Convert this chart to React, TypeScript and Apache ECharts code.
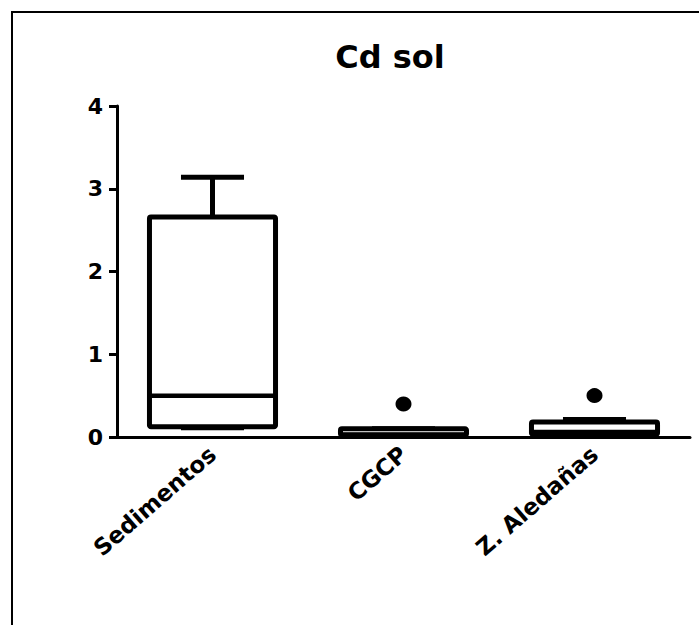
import React, { useEffect, useRef } from "react";
import * as echarts from "echarts";

const categories = ["Sedimentos", "CGCP", "Z. Aledañas"];
// [min, Q1, median, Q3, max]
const boxValues = [
  [0.1, 0.125, 0.5, 2.66, 3.14],
  [0.01, 0.02, 0.03, 0.1, 0.1],
  [0.02, 0.03, 0.06, 0.18, 0.21],
];
const outliers = [
  [1, 0.4],
  [2, 0.5],
];
const yTicks = { min: 0, max: 4, interval: 1 };
const titleText = "Cd sol";

export default function App() {
  const ref = useRef<HTMLDivElement>(null);
  useEffect(() => {
    if (!ref.current) return;
    const chart = echarts.init(ref.current, null, { renderer: "svg" });
    const font = "DejaVu Sans";
    chart.setOption({
      animation: false,
      backgroundColor: "#fff",
      title: {
        text: titleText,
        left: 385,
        top: 36,
        textAlign: "center",
        textStyle: { fontFamily: font, fontWeight: "bold", fontSize: 32, color: "#000" },
      },
      graphic: [
        {
          type: "rect",
          shape: { x: 12, y: 12, width: 900, height: 900 },
          style: { fill: "none", stroke: "#000", lineWidth: 2 },
          silent: true,
        },
      ],
      grid: {
        left: 117,
        right: 9,
        top: 106,
        bottom: 188,
        containLabel: false,
        outerBoundsMode: "none",
      },
      xAxis: {
        type: "category",
        data: categories,
        boundaryGap: true,
        axisLine: { lineStyle: { color: "#000", width: 3 } },
        axisTick: { alignWithLabel: true, length: 8, lineStyle: { color: "#000", width: 3 } },
        axisLabel: {
          rotate: 41,
          margin: 14,
          interval: 0,
          fontFamily: font,
          fontWeight: "bold",
          fontSize: 23,
          color: "#000",
        },
        splitLine: { show: false },
      },
      yAxis: {
        type: "value",
        min: yTicks.min,
        max: yTicks.max,
        interval: yTicks.interval,
        axisLine: { show: true, lineStyle: { color: "#000", width: 3 } },
        axisTick: { show: true, length: 8, lineStyle: { color: "#000", width: 3 } },
        axisLabel: {
          margin: 14,
          fontFamily: font,
          fontWeight: "bold",
          fontSize: 22,
          color: "#000",
        },
        splitLine: { show: false },
      },
      series: [
        {
          type: "custom",
          data: boxValues.map((v, i) => [i, ...v]),
          encode: { x: 0, y: [1, 2, 3, 4, 5] },
          z: 2,
          renderItem: (params: any, api: any) => {
            const xi = api.value(0);
            const mn = api.value(1);
            const q1 = api.value(2);
            const md = api.value(3);
            const q3 = api.value(4);
            const mx = api.value(5);
            const band = api.size([1, 0])[0];
            const bw = band * 0.66;
            const cw = band * 0.33;
            const pMin = api.coord([xi, mn]);
            const pQ1 = api.coord([xi, q1]);
            const pMd = api.coord([xi, md]);
            const pQ3 = api.coord([xi, q3]);
            const pMax = api.coord([xi, mx]);
            const cx = pQ3[0];
            const lineStyle = { stroke: "#000", lineWidth: 5 };
            return {
              type: "group",
              children: [
                { type: "line", shape: { x1: cx, y1: pQ3[1], x2: cx, y2: pMax[1] }, style: lineStyle },
                { type: "line", shape: { x1: cx - cw / 2, y1: pMax[1], x2: cx + cw / 2, y2: pMax[1] }, style: lineStyle },
                { type: "line", shape: { x1: cx, y1: pQ1[1], x2: cx, y2: pMin[1] }, style: lineStyle },
                { type: "line", shape: { x1: cx - cw / 2, y1: pMin[1], x2: cx + cw / 2, y2: pMin[1] }, style: { stroke: "#000", lineWidth: 3 } },
                {
                  type: "rect",
                  shape: { x: cx - bw / 2, y: pQ3[1], width: bw, height: pQ1[1] - pQ3[1], r: 1.5 },
                  style: { fill: "#fff", stroke: "#000", lineWidth: 5 },
                },
                { type: "line", shape: { x1: cx - bw / 2, y1: pMd[1], x2: cx + bw / 2, y2: pMd[1] }, style: { stroke: "#000", lineWidth: 4.5 } },
              ],
            };
          },
        },
        {
          type: "scatter",
          data: outliers,
          symbol: "circle",
          symbolSize: [16, 15],
          itemStyle: { color: "#000", opacity: 1 },
          z: 3,
        },
      ],
    });
    return () => chart.dispose();
  }, []);
  return (
    <div
      ref={ref}
      style={{ position: "fixed", left: 0, top: 0, width: 699, height: 625 }}
    />
  );
}
